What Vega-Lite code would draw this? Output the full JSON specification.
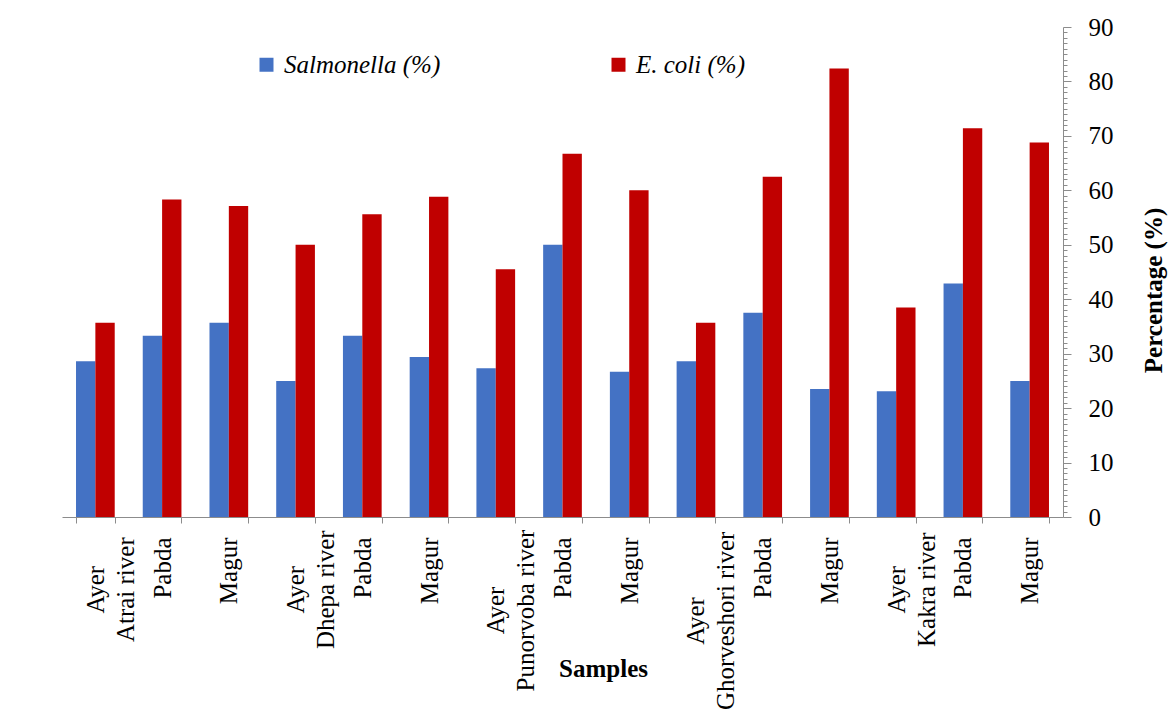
{
  "$schema": "https://vega.github.io/schema/vega-lite/v6.json",
  "width": 1001,
  "height": 490,
  "autosize": {"type": "none"},
  "padding": {"left": 62, "top": 27, "right": 107, "bottom": 201},
  "background": "white",
  "config": {
    "font": "Liberation Serif",
    "view": {"stroke": null},
    "axis": {"labelColor": "black", "titleColor": "black", "domainColor": "#8c8c8c", "tickColor": "#8c8c8c", "grid": false}
  },
  "data": {
    "values": [
      {"sample": "Ayer|Atrai river", "series": "Salmonella (%)", "value": 28.6},
      {"sample": "Ayer|Atrai river", "series": "E. coli (%)", "value": 35.7},
      {"sample": "Pabda|Atrai river", "series": "Salmonella (%)", "value": 33.3},
      {"sample": "Pabda|Atrai river", "series": "E. coli (%)", "value": 58.3},
      {"sample": "Magur|Atrai river", "series": "Salmonella (%)", "value": 35.7},
      {"sample": "Magur|Atrai river", "series": "E. coli (%)", "value": 57.1},
      {"sample": "Ayer|Dhepa river", "series": "Salmonella (%)", "value": 25.0},
      {"sample": "Ayer|Dhepa river", "series": "E. coli (%)", "value": 50.0},
      {"sample": "Pabda|Dhepa river", "series": "Salmonella (%)", "value": 33.3},
      {"sample": "Pabda|Dhepa river", "series": "E. coli (%)", "value": 55.6},
      {"sample": "Magur|Dhepa river", "series": "Salmonella (%)", "value": 29.4},
      {"sample": "Magur|Dhepa river", "series": "E. coli (%)", "value": 58.8},
      {"sample": "Ayer|Punorvoba river", "series": "Salmonella (%)", "value": 27.3},
      {"sample": "Ayer|Punorvoba river", "series": "E. coli (%)", "value": 45.5},
      {"sample": "Pabda|Punorvoba river", "series": "Salmonella (%)", "value": 50.0},
      {"sample": "Pabda|Punorvoba river", "series": "E. coli (%)", "value": 66.7},
      {"sample": "Magur|Punorvoba river", "series": "Salmonella (%)", "value": 26.7},
      {"sample": "Magur|Punorvoba river", "series": "E. coli (%)", "value": 60.0},
      {"sample": "Ayer|Ghorveshori river", "series": "Salmonella (%)", "value": 28.6},
      {"sample": "Ayer|Ghorveshori river", "series": "E. coli (%)", "value": 35.7},
      {"sample": "Pabda|Ghorveshori river", "series": "Salmonella (%)", "value": 37.5},
      {"sample": "Pabda|Ghorveshori river", "series": "E. coli (%)", "value": 62.5},
      {"sample": "Magur|Ghorveshori river", "series": "Salmonella (%)", "value": 23.5},
      {"sample": "Magur|Ghorveshori river", "series": "E. coli (%)", "value": 82.4},
      {"sample": "Ayer|Kakra river", "series": "Salmonella (%)", "value": 23.1},
      {"sample": "Ayer|Kakra river", "series": "E. coli (%)", "value": 38.5},
      {"sample": "Pabda|Kakra river", "series": "Salmonella (%)", "value": 42.9},
      {"sample": "Pabda|Kakra river", "series": "E. coli (%)", "value": 71.4},
      {"sample": "Magur|Kakra river", "series": "Salmonella (%)", "value": 25.0},
      {"sample": "Magur|Kakra river", "series": "E. coli (%)", "value": 68.8}
    ]
  },
  "mark": {"type": "bar"},
  "encoding": {
    "x": {
      "field": "sample", "type": "nominal", "sort": null,
      "scale": {"paddingInner": 0.42, "paddingOuter": 0.21},
      "axis": {
        "orient": "bottom",
        "title": "Samples",
        "titleFontSize": 25, "titleFontWeight": "bold",
        "titleX": 541, "titleY": 151, "titleBaseline": "middle",
        "tickBand": "extent", "tickSize": 6,
        "labelAngle": 270,
        "labelFontSize": 25,
        "labelLineHeight": 30,
        "labelBaseline": "middle",
        "labelLimit": 400,
        "labelExpr": "!isString(datum.value) ? '' : (indexof(datum.value, 'Ayer') == 0 ? split(datum.value, '|') : split(datum.value, '|')[0])",
        "labelAlign": {"expr": "isString(datum.value) && indexof(datum.value, 'Ayer') == 0 ? 'center' : 'right'"},
        "labelPadding": {"expr": "isString(datum.value) && indexof(datum.value, 'Ayer') == 0 ? 9 + length(split(datum.value, '|')[1]) * 5.2 : 14"}
      }
    },
    "xOffset": {"field": "series", "type": "nominal", "sort": ["Salmonella (%)", "E. coli (%)"]},
    "y": {
      "field": "value", "type": "quantitative",
      "scale": {"domain": [0, 90], "nice": false},
      "axis": {
        "orient": "right",
        "title": "Percentage (%)",
        "titleFontSize": 25, "titleFontWeight": "bold",
        "titleAngle": 270, "titleX": 90, "titleY": 263, "titleBaseline": "middle",
        "values": [0,1,2,3,4,5,6,7,8,9,10,11,12,13,14,15,16,17,18,19,20,21,22,23,24,25,26,27,28,29,30,31,32,33,34,35,36,37,38,39,40,41,42,43,44,45,46,47,48,49,50,51,52,53,54,55,56,57,58,59,60,61,62,63,64,65,66,67,68,69,70,71,72,73,74,75,76,77,78,79,80,81,82,83,84,85,86,87,88,89,90],
        "labelExpr": "datum.value % 10 == 0 ? datum.label : ''",
        "tickSize": {"expr": "datum.value % 10 == 0 ? 8 : 4"},
        "labelFontSize": 25,
        "labelPadding": 17,
        "labelAlign": "left",
        "labelBaseline": "middle"
      }
    },
    "color": {
      "field": "series", "type": "nominal",
      "scale": {"domain": ["Salmonella (%)", "E. coli (%)"], "range": ["#4472C4", "#C00000"]},
      "legend": {
        "orient": "none", "legendX": 192, "legendY": 25,
        "direction": "horizontal", "title": null,
        "symbolType": "square", "symbolSize": 196, "symbolStrokeWidth": 0,
        "labelFontSize": 25, "labelFontStyle": "italic", "labelColor": "black",
        "labelOffset": 5, "columnPadding": 165, "labelLimit": 300
      }
    }
  }
}
